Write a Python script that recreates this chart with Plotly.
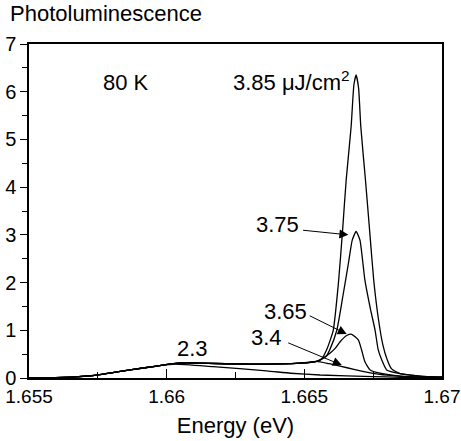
import plotly.graph_objects as go

# ---- data (Energy in eV, PL intensity) ----
# shared rising edge / plateau
base_E = [1.6550, 1.65624, 1.65746, 1.65867, 1.65964, 1.66024, 1.66073, 1.66121, 1.66303, 1.66484, 1.66545]
base_I = [0.00, 0.01, 0.06, 0.17, 0.25, 0.30, 0.32, 0.31, 0.29, 0.31, 0.35]

# 2.3 uJ/cm2
e23 = [1.6550, 1.65624, 1.65746, 1.65867, 1.65964, 1.66030, 1.66168, 1.66363, 1.66450, 1.66557, 1.66750, 1.66850, 1.67000]
i23 = [0.00, 0.01, 0.06, 0.17, 0.25, 0.29, 0.237, 0.15, 0.10, 0.063, 0.03, 0.015, 0.01]

# 3.4 uJ/cm2
e34 = base_E + [1.66590, 1.66630, 1.66680, 1.66730, 1.66800, 1.66900, 1.67000]
i34 = base_I + [0.30, 0.25, 0.18, 0.12, 0.06, 0.02, 0.01]

# 3.65 uJ/cm2
e365 = base_E + [1.66557, 1.66593, 1.66612, 1.66630, 1.66654, 1.66672, 1.66696, 1.66708, 1.66720, 1.66739, 1.66775, 1.66848, 1.67000]
i365 = base_I + [0.38, 0.52, 0.62, 0.76, 0.89, 0.916, 0.80, 0.587, 0.34, 0.17, 0.10, 0.04, 0.01]

# 3.75 uJ/cm2
e375 = base_E + [1.66579, 1.66593, 1.66618, 1.66641, 1.66660, 1.66674, 1.66688, 1.66702, 1.66720, 1.66740, 1.66757, 1.66768, 1.66781, 1.66799, 1.66848, 1.66920, 1.67000]
i375 = base_I + [0.45, 0.60, 1.00, 1.75, 2.40, 2.89, 3.07, 2.89, 2.05, 1.45, 1.00, 0.60, 0.38, 0.17, 0.09, 0.04, 0.02]

# 3.85 uJ/cm2
e385 = base_E + [1.66563, 1.66581, 1.66605, 1.66624, 1.66639, 1.66652, 1.66670, 1.66680, 1.66688, 1.66697, 1.66705, 1.66722, 1.66737, 1.66752, 1.66770, 1.66785, 1.66800, 1.66817, 1.66848, 1.66920, 1.67000]
i385 = base_I + [0.40, 0.59, 1.00, 2.00, 3.10, 4.15, 5.27, 6.14, 6.35, 6.08, 5.27, 4.15, 3.10, 2.05, 1.20, 0.70, 0.40, 0.19, 0.09, 0.04, 0.02]

series = [(e23, i23), (e34, i34), (e365, i365), (e375, i375), (e385, i385)]

x_ticks = [1.655, 1.66, 1.665, 1.67]
x_ticktext = ["1.655", "1.66", "1.665", "1.67"]
y_ticks = [0, 1, 2, 3, 4, 5, 6, 7]

# labels: (text, x, y)
labels = [
    ("80 K", 1.65852, 6.20),
    ("3.85 μJ/cm<sup>2</sup>", 1.66455, 6.22),
    ("3.75", 1.66402, 3.21),
    ("3.65", 1.66432, 1.40),
    ("3.4", 1.66363, 0.84),
    ("2.3", 1.66092, 0.61),
]
# arrows: (tail_x, tail_y, tip_x, tip_y)
arrows = [
    (1.66490, 3.10, 1.66660, 3.00),
    (1.66514, 1.32, 1.66654, 0.92),
    (1.66436, 0.75, 1.66636, 0.27),
]

FONT = "Liberation Sans, Arial, sans-serif"

fig = go.Figure()
for ex, iy in series:
    fig.add_trace(go.Scatter(x=ex, y=iy, mode="lines",
                             line=dict(color="black", width=1.3, shape="spline", smoothing=0.5),
                             showlegend=False, hoverinfo="skip"))

for t, x, y in labels:
    fig.add_annotation(x=x, y=y, xref="x", yref="y", text=t, showarrow=False,
                       font=dict(family=FONT, size=22, color="black"))

for tx, ty, hx, hy in arrows:
    fig.add_annotation(x=hx, y=hy, ax=tx, ay=ty, xref="x", yref="y", axref="x", ayref="y",
                       text="", showarrow=True, arrowhead=2, arrowsize=1.8, arrowwidth=1,
                       arrowcolor="black", standoff=0, startstandoff=0)

fig.add_annotation(x=0, y=1, xref="paper", yref="paper", xanchor="left", yanchor="bottom",
                   xshift=-21, yshift=16, text="Photoluminescence", showarrow=False,
                   font=dict(family=FONT, size=22, color="black"))

fig.update_xaxes(range=[1.655, 1.67], tickvals=x_ticks, ticktext=x_ticktext,
                 ticks="inside", ticklen=9, tickwidth=1, tickcolor="black",
                 minor=dict(tickvals=[1.6575, 1.6625, 1.6675], ticks="inside", ticklen=6, tickcolor="black"),
                 showline=True, linecolor="black", linewidth=1.5, mirror=True,
                 showgrid=False, zeroline=False, automargin=False,
                 tickfont=dict(family=FONT, size=19, color="black"),
                 title=dict(text="Energy (eV)", font=dict(family=FONT, size=22, color="black"), standoff=12))
fig.update_yaxes(range=[0, 7], tickvals=y_ticks,
                 ticks="outside", ticklen=7, tickwidth=1, tickcolor="black",
                 minor=dict(dtick=0.5, ticks="outside", ticklen=5, tickcolor="black"),
                 showline=True, linecolor="black", linewidth=1.5, mirror=True,
                 showgrid=False, zeroline=False, automargin=False,
                 tickfont=dict(family=FONT, size=20, color="black"))

fig.update_layout(width=461, height=441, margin=dict(l=29, r=19, t=44, b=63),
                  paper_bgcolor="white", plot_bgcolor="white",
                  font=dict(family=FONT, color="black"))

# remove the browser's default 8px body margin so the figure sits at the window origin
fig.write_html("out.html", config={"displayModeBar": False},
               post_script="document.body.style.margin='0';document.body.style.overflow='hidden';")
